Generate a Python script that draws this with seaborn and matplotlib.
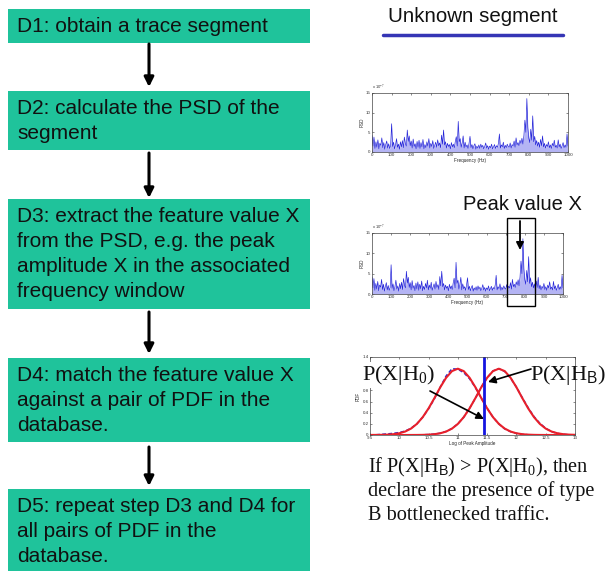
import numpy as np
import pandas as pd
import matplotlib
matplotlib.use("Agg")
import matplotlib.pyplot as plt
import seaborn as sns
from matplotlib.patches import Rectangle

# ---------------- data ----------------
step_texts = [
    ["D1: obtain a trace segment"],
    ["D2: calculate the PSD of the", "segment"],
    ["D3: extract the feature value X", "from the PSD, e.g. the peak",
     "amplitude X in the associated", "frequency window"],
    ["D4: match the feature value X", "against a pair of PDF in the", "database."],
    ["D5: repeat step D3 and D4 for", "all pairs of PDF in the", "database."],
]

psd_freq = np.arange(0, 1001, 5)
psd_values = [
    4.2, 1.5, 3.8, 0.9, 2.6, 1.2, 3.1, 0.8, 2.2, 1.7,
    3.6, 1.1, 2.4, 0.7, 1.9, 2.8, 1.0, 2.1, 0.9, 1.6,
    7.2, 1.4, 2.5, 0.8, 1.8, 3.4, 1.2, 2.0, 0.7, 2.6,
    1.3, 2.9, 1.1, 3.8, 2.2, 1.5, 5.6, 2.7, 4.1, 1.6,
    2.8, 1.0, 3.3, 1.4, 2.1, 0.8, 2.7, 1.2, 3.0, 0.9,
    2.4, 1.3, 3.2, 0.8, 1.9, 1.1, 2.6, 1.5, 3.4, 1.0,
    2.2, 1.4, 2.9, 0.9, 1.7, 2.5, 1.2, 3.1, 1.6, 2.3,
    1.1, 4.3, 2.0, 5.6, 1.8, 2.6, 1.0, 2.2, 1.4, 1.9,
    0.8, 2.4, 1.3, 2.0, 1.1, 2.7, 3.9, 1.5, 7.8, 2.6,
    3.4, 1.2, 2.3, 4.1, 1.0, 2.5, 1.3, 1.8, 0.9, 2.2,
    4.0, 1.1, 1.9, 0.8, 1.6, 2.1, 0.7, 1.5, 1.0, 1.8,
    0.9, 2.0, 1.2, 1.7, 0.8, 1.4, 2.3, 1.0, 1.6, 0.7,
    1.5, 1.1, 2.0, 0.8, 1.3, 1.9, 0.9, 1.6, 1.2, 2.2,
    4.6, 1.0, 1.8, 1.3, 2.5, 0.9, 1.7, 1.1, 2.0, 1.4,
    1.2, 2.3, 1.0, 1.9, 1.5, 2.8, 1.2, 3.6, 1.8, 2.4,
    1.6, 3.0, 2.2, 3.5, 2.0, 4.2, 8.1, 5.0, 13.6, 6.2,
    3.5, 2.4, 5.8, 3.0, 9.2, 2.6, 4.0, 1.8, 2.9, 1.5,
    2.5, 1.2, 3.2, 1.6, 4.1, 1.3, 2.2, 1.0, 1.9, 1.4,
    2.6, 1.1, 1.8, 0.9, 2.2, 1.5, 3.0, 1.2, 1.7, 1.0,
    3.1, 1.3, 2.0, 0.9, 1.6, 2.4, 1.1, 1.8, 1.2, 4.6,
    1.5,
]
psd_xticks = [0, 100, 200, 300, 400, 500, 600, 700, 800, 900, 1000]
psd_yticks = [0, 5, 10, 15]

pdf_x = [9.5, 9.6, 9.7, 9.8, 9.9, 10.0, 10.1, 10.2, 10.3, 10.4, 10.5, 10.6,
         10.7, 10.8, 10.9, 11.0, 11.1, 11.2, 11.3, 11.4, 11.5, 11.6, 11.7, 11.8,
         11.9, 12.0, 12.1, 12.2, 12.3, 12.4, 12.5, 12.6, 12.7, 12.8, 12.9, 13.0]
pdf_h0_fit = [0.0003, 0.0009, 0.0025, 0.0062, 0.0143, 0.031, 0.062, 0.115,
              0.199, 0.320, 0.478, 0.663, 0.857, 1.028, 1.147, 1.190, 1.147,
              1.028, 0.857, 0.663, 0.478, 0.320, 0.199, 0.115, 0.062, 0.031,
              0.0143, 0.0062, 0.0025, 0.0009, 0.0003, 0.0001, 0, 0, 0, 0]
pdf_hb_fit = [0, 0, 0, 0, 0, 0, 0.0001, 0.0003, 0.0009, 0.0025, 0.0062, 0.0143,
              0.031, 0.062, 0.115, 0.199, 0.320, 0.478, 0.663, 0.857, 1.028,
              1.147, 1.190, 1.147, 1.028, 0.857, 0.663, 0.478, 0.320, 0.199,
              0.115, 0.062, 0.031, 0.0143, 0.0062, 0.0025]
pdf_h0_emp = [0, 0.004, 0.012, 0.02, 0.03, 0.045, 0.07, 0.12, 0.20, 0.32, 0.47,
              0.65, 0.86, 1.06, 1.19, 1.18, 1.12, 1.01, 0.85, 0.66, 0.48, 0.32,
              0.20, 0.11, 0.06, 0.03, 0.012, 0.005, 0.002, 0, 0, 0, 0, 0, 0, 0]
pdf_hb_emp = [0, 0, 0, 0, 0, 0, 0, 0.001, 0.002, 0.004, 0.008, 0.016, 0.032,
              0.064, 0.117, 0.20, 0.32, 0.48, 0.66, 0.86, 1.03, 1.15, 1.19, 1.14,
              1.02, 0.86, 0.67, 0.49, 0.33, 0.21, 0.12, 0.06, 0.03, 0.012, 0.004,
              0.001]
pdf_xticks = [9.5, 10, 10.5, 11, 11.5, 12, 12.5, 13]
pdf_xticklabels = ["9.5", "10", "10.5", "11", "11.5", "12", "12.5", "13"]
pdf_yticks = [0, 0.2, 0.4, 0.6, 0.8, 1.0, 1.2, 1.4]
# 1.0 and 1.2 are hidden behind the P(X|H0) label in the reference
pdf_yticklabels = ["0", "0.2", "0.4", "0.6", "0.8", "", "", "1.4"]
feature_x = 11.45

# ---------------- style ----------------
sns.set_theme(style="white")
plt.rcParams['font.family'] = ['Liberation Sans', 'DejaVu Sans']
plt.rcParams['mathtext.fontset'] = 'custom'
plt.rcParams['mathtext.rm'] = 'Liberation Serif'
plt.rcParams['mathtext.it'] = 'Liberation Serif:italic'
plt.rcParams['mathtext.sf'] = 'Liberation Sans'

W, H = 611, 571
fig = plt.figure(figsize=(W / 100, H / 100), dpi=100)


def rect(x0, y0, x1, y1):
    return [x0 / W, 1 - y1 / H, (x1 - x0) / W, (y1 - y0) / H]


bg = fig.add_axes([0, 0, 1, 1])
bg.set_xlim(0, W)
bg.set_ylim(H, 0)
bg.axis('off')

box_color = "#1fc39b"
box_tops = [9, 91, 199, 358, 489]
box_bots = [43, 150, 309, 442, 571]
for lines, t, b in zip(step_texts, box_tops, box_bots):
    bg.add_patch(Rectangle((8, t), 302, b - t, facecolor=box_color,
                           edgecolor='none'))
    for i, ln in enumerate(lines):
        bg.text(17, t + 17.5 + 25 * i, ln, fontsize=15, color='#111111',
                va='center', ha='left')

# flow arrows
for y0, y1 in [(44, 87), (153, 198), (312, 354), (447, 486)]:
    bg.annotate("", xy=(149, y1), xytext=(149, y0),
                arrowprops=dict(arrowstyle='-|>', lw=2.2, color='black',
                                mutation_scale=14, shrinkA=0, shrinkB=0))

# header
bg.text(473, 17, "Unknown segment", fontsize=14.8, ha='center', va='center',
        color='#111111')
bg.plot([383, 563], [35, 35], color='#3535b5', lw=2.5)


def style_small(ax):
    for s in ax.spines.values():
        s.set_color('#444444')
        s.set_linewidth(0.5)
    ax.tick_params(direction='in', length=1.5, width=0.4, labelsize=3.2,
                   pad=1, top=True, right=True, bottom=True, left=True,
                   colors='#333333')


def psd_plot(r):
    ax = fig.add_axes(rect(*r))
    df = pd.DataFrame({"f": psd_freq, "p": psd_values})
    ax.fill_between(df["f"], 0, df["p"], color='#b4b4f4', lw=0)
    sns.lineplot(data=df, x="f", y="p", ax=ax, color='#2222d8', lw=0.45)
    ax.set_xlim(0, 1000)
    ax.set_ylim(0, 15)
    ax.set_xticks(psd_xticks)
    ax.set_yticks(psd_yticks)
    ax.set_xlabel("Frequency (Hz)", fontsize=3.3, labelpad=0.5)
    ax.set_ylabel("PSD", fontsize=3.3, labelpad=1)
    ax.text(0.0, 1.02, r"x 10$^{-7}$", transform=ax.transAxes, fontsize=3,
            va='bottom', color='#333333')
    style_small(ax)
    return ax


psd_plot((372, 93, 568, 152))
psd_plot((372, 233, 563, 294))

# PDF plot
ax = fig.add_axes(rect(370, 357, 575, 435))
pdf_df = pd.DataFrame({"x": pdf_x, "h0f": pdf_h0_fit, "hbf": pdf_hb_fit,
                       "h0e": pdf_h0_emp, "hbe": pdf_hb_emp})
sns.lineplot(data=pdf_df, x="x", y="h0e", ax=ax, color='#2a2ad0', lw=1.1,
             linestyle=(0, (2.5, 1.5)))
sns.lineplot(data=pdf_df, x="x", y="hbe", ax=ax, color='#2a2ad0', lw=1.1,
             linestyle=(0, (2.5, 1.5)))
sns.lineplot(data=pdf_df, x="x", y="h0f", ax=ax, color='#e8202a', lw=1.5)
sns.lineplot(data=pdf_df, x="x", y="hbf", ax=ax, color='#e8202a', lw=1.5)
ax.axvline(feature_x, color='#1515e0', lw=2)
ax.set_xlim(9.5, 13)
ax.set_ylim(0, 1.4)
ax.set_xticks(pdf_xticks)
ax.set_xticklabels(pdf_xticklabels)
ax.set_yticks(pdf_yticks)
ax.set_yticklabels(pdf_yticklabels)
ax.set_xlabel("Log of Peak Amplitude", fontsize=3.3, labelpad=0.5)
ax.set_ylabel("PDF", fontsize=3.3, labelpad=1)
style_small(ax)

# top overlay
top = fig.add_axes([0, 0, 1, 1], facecolor='none')
top.set_xlim(0, W)
top.set_ylim(H, 0)
top.axis('off')
top.set_zorder(10)

top.text(522, 204, "Peak value X", fontsize=14.5, ha='center', va='center',
         color='#111111')
top.add_patch(Rectangle((507, 218), 28, 88, facecolor='none',
                        edgecolor='black', lw=1))
top.annotate("", xy=(520, 250), xytext=(520, 221),
             arrowprops=dict(arrowstyle='-|>', lw=1.3, color='black',
                             mutation_scale=11, shrinkA=0, shrinkB=0))

serif = ['Liberation Serif', 'DejaVu Serif']
top.text(362, 375, r"P(X|H$_\mathrm{0}$)", fontsize=16, family=serif, ha='left',
         va='center', color='#111111',
         bbox=dict(facecolor='white', edgecolor='none', pad=0.5))
top.text(530, 375, r"P(X|H$_\mathsf{B}$)", fontsize=16, family=serif,
         ha='left', va='center', color='#111111')
top.annotate("", xy=(488, 382), xytext=(531, 369),
             arrowprops=dict(arrowstyle='-|>', lw=1.2, color='black',
                             mutation_scale=11, shrinkA=0, shrinkB=0))
top.annotate("", xy=(484, 419), xytext=(430, 391),
             arrowprops=dict(arrowstyle='-|>', lw=1.2, color='black',
                             mutation_scale=11, shrinkA=0, shrinkB=0))

caption = [r"If P(X|H$_\mathsf{B}$) > P(X|H$_\mathrm{0}$), then",
           "declare the presence of type",
           "B bottlenecked traffic."]
for i, ln in enumerate(caption):
    top.text(368, 467 + 24 * i, ln, fontsize=14.6, family=serif, ha='left',
             va='center', color='#111111')

fig.savefig("out.png", dpi=100)
